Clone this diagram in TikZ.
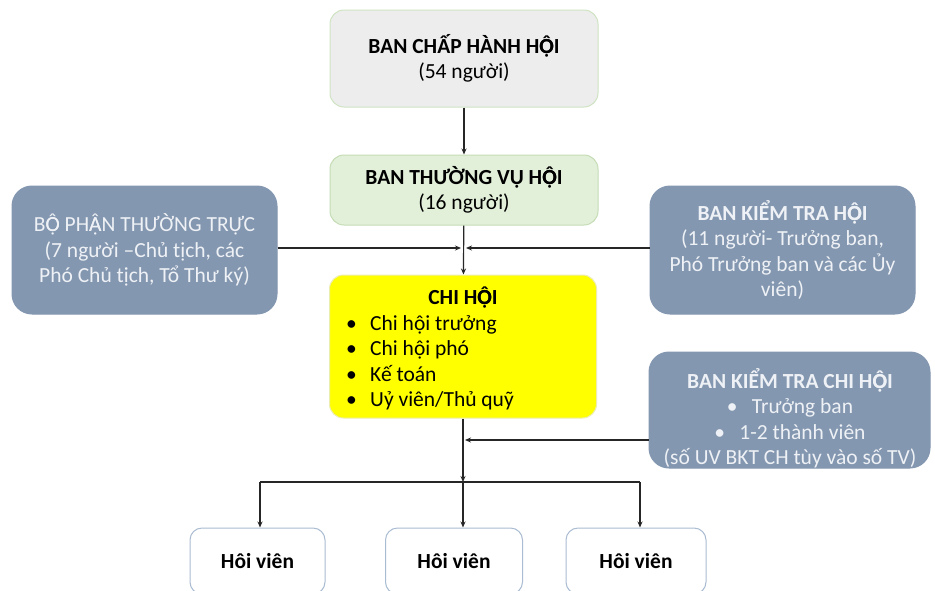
\documentclass[tikz,border=0pt]{standalone}
\usepackage{fontspec}
\setmainfont{Carlito}
\usetikzlibrary{arrows.meta}
\definecolor{cgray}{HTML}{EDEDED}
\definecolor{cgrayb}{HTML}{CFE3C2}
\definecolor{cgreen}{HTML}{E2F0D9}
\definecolor{cgreenb}{HTML}{C5DCB5}
\definecolor{cblue}{HTML}{8497B0}
\definecolor{cbluetxt}{HTML}{EEF1F5}
\definecolor{cyel}{HTML}{FFFF00}
\definecolor{cyelb}{HTML}{EDEDB0}
\definecolor{chvb}{HTML}{A9BCD2}
\definecolor{cline}{HTML}{262626}
\newcommand\diagfont{\fontsize{21.5}{25.5}\selectfont}
\newcommand\Ocd{\makebox[0pt][l]{Ọ}Ô}
\newcommand\Acd{\makebox[0pt][l]{Ạ}Â}
\begin{document}
\begin{tikzpicture}[x=1pt,y=-1pt,
  box/.style={rounded corners=14pt, draw, line width=1pt, align=center, font=\diagfont, inner sep=0pt, text=black},
  bbox/.style={box, fill=cblue, draw=cblue, rounded corners=20pt, text=cbluetxt},
  hvbox/.style={box, fill=white, draw=chvb, rounded corners=12pt, minimum height=66pt},
  txt/.style={font=\diagfont, inner sep=0pt},
  ln/.style={draw=cline, line width=1.2pt},
  arr/.style={ln, -{Stealth[length=6pt,width=5pt]}}]
\useasboundingbox (0,0) rectangle (935,590);
\clip (0,0) rectangle (935,590);
\fill[white] (0,0) rectangle (935,590);

\node[box, fill=cgray, draw=cgrayb, minimum width=268pt, minimum height=97pt] (bch) at (464,58.5) {\textbf{BAN CHẤP HÀNH H\Ocd I}\\(54 người)};
\node[box, fill=cgreen, draw=cgreenb, minimum width=268pt, minimum height=70pt] (tv) at (464,190) {\textbf{BAN THƯỜNG VỤ H\Ocd I}\\(16 người)};
\node[bbox, minimum width=265pt, minimum height=128pt] (bpt) at (144.5,250) {B\Ocd{} PH\Acd N THƯỜNG TRỰC\\(7 người –Chủ tịch, các\\Phó Chủ tịch, Tổ Thư ký)};
\node[bbox, minimum width=265pt, minimum height=128pt] (bkt) at (782.5,250) {\textbf{BAN KIỂM TRA H\Ocd I}\\(11 người- Trưởng ban,\\Phó Trưởng ban và các Ủy\\viên)};
\node[box, fill=cyel, draw=cyelb, minimum width=267pt, minimum height=143pt] (chi) at (463,346.5) {};
\node[bbox, minimum width=281pt, minimum height=116pt] (bktch) at (789.5,410) {};
\node[txt, align=center, text=cbluetxt] (bktcht) at (790,418) {\textbf{BAN KIỂM TRA CHI H\Ocd I}\\\makebox[25pt][l]{•}Trưởng ban\\\makebox[25pt][l]{•}1-2 thành viên\\(số UV BKT CH tùy vào số TV)};

\node[txt, anchor=base] (chit) at (463,304) {\textbf{CHI H\Ocd I}};
\node[txt, anchor=base west] (c1) at (346,330) {\makebox[24pt][l]{•}Chi hội trưởng};
\node[txt, anchor=base west] (c2) at (346,355.5) {\makebox[24pt][l]{•}Chi hội phó};
\node[txt, anchor=base west] (c3) at (346,381) {\makebox[24pt][l]{•}Kế toán};
\node[txt, anchor=base west] (c4) at (346,406.5) {\makebox[24pt][l]{•}Uỷ viên/Thủ quỹ};

\node[hvbox, minimum width=135pt] (hv1) at (257.5,561) {\textbf{Hôi viên}};
\node[hvbox, minimum width=137pt] (hv2) at (454,561) {\textbf{Hôi viên}};
\node[hvbox, minimum width=140pt] (hv3) at (636,561) {\textbf{Hôi viên}};

\coordinate (jl) at (461,248);
\coordinate (jr) at (466,248);
\coordinate (jc) at (465,440);
\coordinate (bus) at (463,482);
\coordinate (busl) at (260,482);
\coordinate (busr) at (640,482);

\draw[arr] (bch) -- (tv);
\draw[arr] (tv) -- (chi);
\draw[arr] (bpt.east |- jl) -- (jl);
\draw[arr] (bkt.west |- jr) -- (jr);
\draw[arr] (chi.south) -- (bus);
\draw[arr] (bktch.west |- jc) -- (jc);
\draw[ln] (busl) -- (busr);
\draw[arr] (busl) -- (busl |- hv1.north);
\draw[arr] (bus) -- (bus |- hv2.north);
\draw[arr] (busr) -- (busr |- hv3.north);
\end{tikzpicture}
\end{document}
